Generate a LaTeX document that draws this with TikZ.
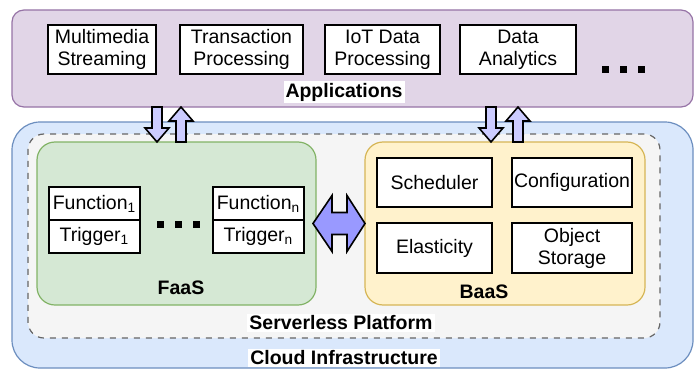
\documentclass[tikz,border=0pt]{standalone}
\usepackage{fontspec}
\setmainfont{Liberation Sans}
\usetikzlibrary{positioning}
\usetikzlibrary{calc}

\definecolor{appfill}{HTML}{E1D5E7}
\definecolor{appline}{HTML}{9673A6}
\definecolor{cloudfill}{HTML}{DAE8FC}
\definecolor{cloudline}{HTML}{6C8EBF}
\definecolor{spfill}{HTML}{F5F5F5}
\definecolor{spline}{HTML}{666666}
\definecolor{faasfill}{HTML}{D5E8D4}
\definecolor{faasline}{HTML}{82B366}
\definecolor{baasfill}{HTML}{FFF2CC}
\definecolor{baasline}{HTML}{D6B656}
\definecolor{arrfill}{HTML}{CCCCFF}
\definecolor{dblfill}{HTML}{9999FF}

\tikzset{
  txt/.style={font=\fontsize{9.75}{11}\selectfont},
  lbl/.style={font=\fontsize{9.75}{11}\selectfont\bfseries, fill=white, inner sep=1pt},
  layer/.style={draw, line width=0.6pt, inner sep=0pt, outer sep=0pt},
  box/.style={txt, draw, fill=white, line width=0.75pt, align=center, inner sep=0pt, outer sep=0pt},
  blk/.style={draw, line width=0.8pt, fill=arrfill, line join=miter},
}

% block arrows: x, upper node, lower node
\newcommand{\blkdown}[3]{%
  \draw[blk] let \p1=(#1,0 |- #2.south), \p2=(#1,0 |- #3.north) in
    (\x1-2.5pt,\y1) -- (\x1+2.5pt,\y1) -- (\x1+2.5pt,\y2+7pt) -- (\x1+6pt,\y2+7pt)
    -- (\x1,\y2) -- (\x1-6pt,\y2+7pt) -- (\x1-2.5pt,\y2+7pt) -- cycle;}
\newcommand{\blkup}[3]{%
  \draw[blk] let \p1=(#1,0 |- #2.south), \p2=(#1,0 |- #3.north) in
    (\x1-2.5pt,\y2) -- (\x1+2.5pt,\y2) -- (\x1+2.5pt,\y1-7pt) -- (\x1+6pt,\y1-7pt)
    -- (\x1,\y1) -- (\x1-6pt,\y1-7pt) -- (\x1-2.5pt,\y1-7pt) -- cycle;}

\begin{document}
\begin{tikzpicture}[x=0.5pt,y=-0.5pt]
  \useasboundingbox (0,0) rectangle (694,369);

  % layers
  \node[layer, fill=cloudfill, draw=cloudline, rounded corners=14pt,
        minimum width=340.5pt, minimum height=123pt] (cloud) at (352.5,245) {};
  \node[layer, fill=spfill, draw=spline, dashed, rounded corners=8pt,
        minimum width=316pt, minimum height=102pt] (sp) at (344,236) {};
  \node[layer, fill=appfill, draw=appline, rounded corners=6pt,
        minimum width=340.5pt, minimum height=48.5pt] (app) at (352.5,58.5) {};
  \node[layer, fill=faasfill, draw=faasline, rounded corners=9pt,
        minimum width=139.5pt, minimum height=81.5pt] (faas) at (176.5,223.5) {};
  \node[layer, fill=baasfill, draw=baasline, rounded corners=9pt,
        minimum width=140pt, minimum height=81.5pt] (baas) at (505,223.5) {};

  % applications
  \node[box, minimum width=54pt, minimum height=24.5pt] (mm) at (102,49.5) {Multimedia\\Streaming};
  \node[box, minimum width=61.5pt, minimum height=24.5pt] (tp) at (241.5,49.5) {Transaction\\Processing};
  \node[box, minimum width=57.5pt, minimum height=24.5pt] (iot) at (382.5,49.5) {IoT Data\\Processing};
  \node[box, minimum width=58pt, minimum height=24.5pt] (da) at (518,49.5) {Data\\Analytics};
  \fill (601.5,66.5) rectangle +(7,7);
  \fill (619.5,66.5) rectangle +(7,7);
  \fill (637.5,66.5) rectangle +(7,7);
  \node[lbl] (applbl) at (344,92) {Applications};

  % FaaS
  \node[box, minimum width=45.5pt, minimum height=16.5pt] (fn1) at (94.5,203.5) {Function\textsubscript{1}};
  \node[box, minimum width=45.5pt, minimum height=16.5pt, below=0pt of fn1] (tr1) {Trigger\textsubscript{1}};
  \node[box, minimum width=45.5pt, minimum height=16.5pt] (fnn) at (258.5,203.5) {Function\textsubscript{n}};
  \node[box, minimum width=45.5pt, minimum height=16.5pt, below=0pt of fnn] (trn) {Trigger\textsubscript{n}};
  \fill (157,220.5) rectangle +(7,7);
  \fill (175,220.5) rectangle +(7,7);
  \fill (193,220.5) rectangle +(7,7);
  \node[lbl, fill=none] (faaslbl) at (181,288) {FaaS};

  % BaaS
  \node[box, minimum width=57.5pt, minimum height=24.5pt] (sch) at (434.5,182.5) {Scheduler};
  \node[box, minimum width=60pt, minimum height=24.5pt] (cfg) at (572,182.5) {Configuration};
  \node[box, minimum width=57.5pt, minimum height=25pt] (el) at (434.5,248) {Elasticity};
  \node[box, minimum width=60pt, minimum height=25pt] (os) at (572,248) {Object\\Storage};
  \node[lbl, fill=none] (baaslbl) at (484,292) {BaaS};

  \node[lbl] (splbl) at (341,323) {Serverless Platform};
  \node[lbl] (cloudlbl) at (344,358) {Cloud Infrastructure};

  % arrows
  \blkdown{157}{app}{faas}
  \blkup{181}{app}{faas}
  \blkdown{491}{app}{baas}
  \blkup{518}{app}{baas}
  \draw[blk, fill=dblfill] let \p1=(faas.east), \p2=(baas.west) in
    (\x1-1.5pt,\y1) -- (\x1+8pt,\y1+14pt) -- (\x1+8pt,\y1+5.5pt) -- (\x2-9pt,\y1+5.5pt)
    -- (\x2-9pt,\y1+14pt) -- (\x2,\y1) -- (\x2-9pt,\y1-14pt) -- (\x2-9pt,\y1-5.5pt)
    -- (\x1+8pt,\y1-5.5pt) -- (\x1+8pt,\y1-14pt) -- cycle;
\end{tikzpicture}
\end{document}
